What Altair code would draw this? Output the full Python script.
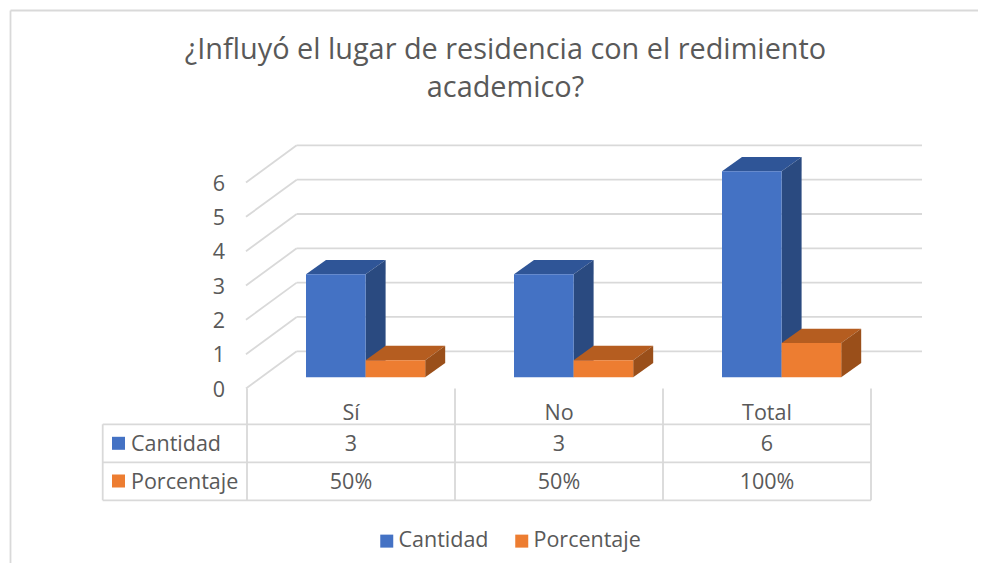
import altair as alt
import pandas as pd

categories = ["Sí", "No", "Total"]
series = ["Cantidad", "Porcentaje"]
cantidad = [3, 3, 6]
porcentaje = [0.5, 0.5, 1]
porcentaje_labels = ["50%", "50%", "100%"]
cantidad_labels = ["3", "3", "6"]
y_ticks = [0, 1, 2, 3, 4, 5, 6]
title_lines = ["¿Influyó el lugar de residencia con el redimiento", "academico?"]

W, H = 970, 555
FONT = "Open Sans"
TXT = "#595959"
GRID = "#d9d9d9"
front_colors = ["#4472C4", "#ED7D31"]
top_colors = ["#2F5597", "#B55D20"]
side_colors = ["#2A4A80", "#9A4F1A"]

# pixel <-> data helpers: one category = 208 px, one value unit = 34.33 px
PX_U, PX_V = 208.0, 34.33
X0, Y0 = 247.0, 377.3
def ux(px): return (px - X0) / PX_U
def vy(px): return (Y0 - px) / PX_V

x_scale = alt.Scale(domain=[ux(8), ux(8 + W)], range=[0, W], nice=False, zero=False)
y_scale = alt.Scale(domain=[vy(8 + H), vy(8)], range=[H, 0], nice=False, zero=False)
X = alt.X("x:Q", scale=x_scale, axis=None)
Y = alt.Y("y:Q", scale=y_scale, axis=None)

BAR_W = 59.6 / PX_U
BAR_OFF = 59.0 / PX_U
DX, DY = 20.0 / PX_U, 14.3 / PX_V
WX_F, WX_B, WX_E = ux(246), ux(296.7), ux(922)
WY_F, WY_B = vy(388.5), vy(351.3)

# walls
grid_rows = []
for t in y_ticks:
    grid_rows.append(dict(x=WX_F, x2=WX_B, y=WY_F + t, y2=WY_B + t))
    grid_rows.append(dict(x=WX_B, x2=WX_E, y=WY_B + t, y2=WY_B + t))

# table rules
TV = [ux(102.7), 0, 1, 2, 3]
TH = [vy(424.3), vy(462.3), vy(500.3)]
TTOP = vy(388.5)
for y in TH:
    grid_rows.append(dict(x=TV[0], x2=TV[-1], y=y, y2=y))
for i, x in enumerate(TV):
    grid_rows.append(dict(x=x, x2=x, y=TH[0] if i == 0 else TTOP, y2=TH[-1]))

# outer chart frame
grid_rows.append(dict(x=ux(10.5), x2=ux(978), y=vy(10.5), y2=vy(10.5)))
grid_rows.append(dict(x=ux(10.5), x2=ux(10.5), y=vy(10.5), y2=vy(563)))
grid_df = pd.DataFrame(grid_rows)
grid = alt.Chart(grid_df).mark_rule(color=GRID, strokeWidth=1.8).encode(
    x=X, x2="x2:Q", y=Y, y2="y2:Q")

# bars
front, layers = [], []
for s, vals in enumerate([cantidad, porcentaje]):
    top_rows, side_rows = [], []
    for c, v in enumerate(vals):
        x0 = c + BAR_OFF + s * BAR_W
        x1 = x0 + BAR_W
        front.append(dict(x=x0, x2=x1, y=0, y2=v, serie=series[s]))
        top_rows += [dict(id=c, y=v, x=x0, x2=x1),
                     dict(id=c, y=v + DY, x=x0 + DX, x2=x1 + DX)]
        side_rows += [dict(id=c, x=x1, y=0, y2=v),
                      dict(id=c, x=x1 + DX, y=DY, y2=v + DY)]
    layers.append(alt.Chart(pd.DataFrame(top_rows)).mark_area(orient="horizontal", color=top_colors[s]).encode(
        x=X, x2="x2:Q", y=Y, detail="id:N"))
    layers.append(alt.Chart(pd.DataFrame(side_rows)).mark_area(orient="vertical", color=side_colors[s]).encode(
        x=X, y=Y, y2="y2:Q", detail="id:N"))

fronts = alt.Chart(pd.DataFrame(front)).mark_rect().encode(
    x=X, x2="x2:Q", y=Y, y2="y2:Q",
    color=alt.Color("serie:N",
        scale=alt.Scale(domain=series, range=front_colors),
        legend=alt.Legend(orient="none", legendX=377 - 8 - 1, legendY=530 - 8, direction="horizontal",
                          title=None, symbolType="square", symbolSize=169, symbolStrokeWidth=0,
                          labelFont=FONT, labelFontSize=21.5, labelColor=TXT, labelOffset=1,
                          columnPadding=22)))

def text_layer(rows, align="center", size=21.5):
    return alt.Chart(pd.DataFrame(rows)).mark_text(
        font=FONT, fontSize=size, color=TXT, align=align, baseline="middle").encode(
        x=X, y=Y, text="t:N")

# y axis labels
ylabels = text_layer([dict(x=ux(225), y=vy(390.5) + t, t=str(t)) for t in y_ticks], align="right")

# table text
ROW = [vy(414), vy(445), vy(483)]
cells = []
for c in range(3):
    xc = c + 0.5
    cells.append(dict(x=xc, y=ROW[0], t=categories[c]))
    cells.append(dict(x=xc, y=ROW[1], t=cantidad_labels[c]))
    cells.append(dict(x=xc, y=ROW[2], t=porcentaje_labels[c]))
table_text = text_layer(cells)
head_text = text_layer([dict(x=ux(131), y=ROW[1], t=series[0]),
                        dict(x=ux(131), y=ROW[2], t=series[1])], align="left")
keys = alt.Chart(pd.DataFrame([dict(x=ux(118.5), y=vy(443.3), serie=series[0]),
                               dict(x=ux(118.5), y=vy(481), serie=series[1])])).mark_square(size=169, opacity=1).encode(
    x=X, y=Y, color=alt.Color("serie:N", legend=None))

chart = alt.layer(grid, *layers, fronts, ylabels, table_text, head_text, keys).properties(
    width=W, height=H,
    padding=0,
    autosize=alt.AutoSizeParams(type="none"),
    title=alt.TitleParams(text=title_lines, anchor="middle", font=FONT, fontSize=28.85, fontWeight="normal",
                          color=TXT, lineHeight=38.5, baseline="top", offset=0, dx=12.5, dy=95),
).configure_view(stroke=None)

chart.save("out.html", embed_options={"renderer": "svg", "actions": False})
